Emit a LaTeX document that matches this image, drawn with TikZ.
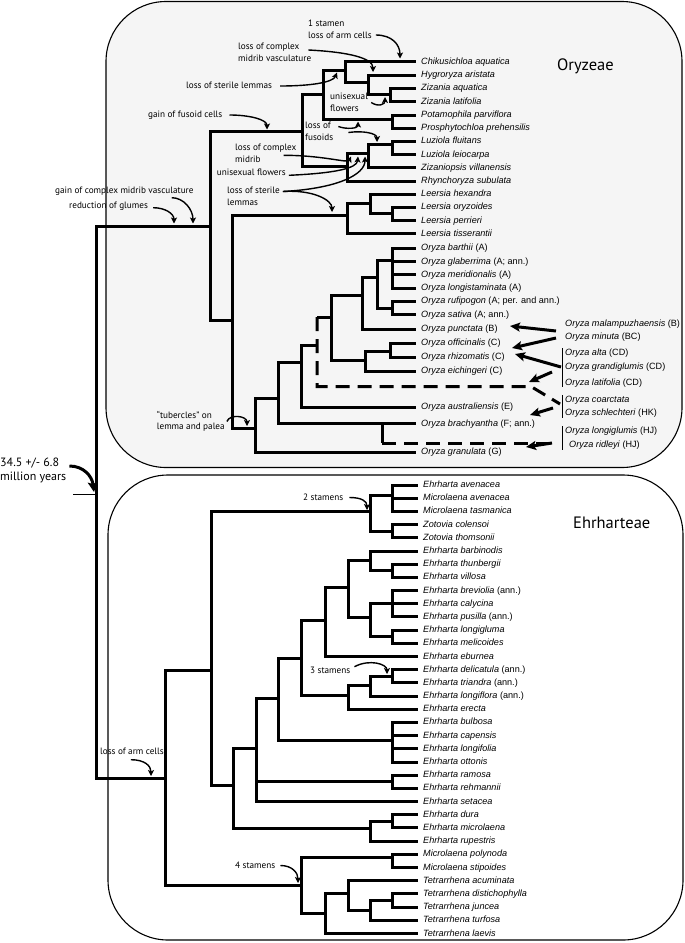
\documentclass[tikz,border=0pt]{standalone}
\usepackage{fontspec}
\setmainfont{Liberation Sans}
\newfontfamily\annf{PT Sans}
\usetikzlibrary{arrows.meta}
\definecolor{oryfill}{gray}{0.96}
\newcommand\mkleaf[4]{\node[tx] (#1) at (#2,#3) {#4};}
\begin{document}
\begin{tikzpicture}[x=1pt,y=-1pt,
 br/.style={line width=3pt,line join=miter},
 brd/.style={line width=3pt,dash pattern=on 14pt off 8pt},
 tx/.style={anchor=west,inner xsep=5pt,inner ysep=0pt,font=\fontsize{9.1}{10}\selectfont,text height=7pt,text depth=2pt},
 txr/.style={tx,inner xsep=3pt},
 an/.style={font=\annf\fontsize{9.2}{11.6}\selectfont,inner sep=0pt,align=left,anchor=west},
 big/.style={font=\annf\fontsize{12}{14}\selectfont,inner sep=0pt,align=left,anchor=west},
 ttl/.style={font=\annf\fontsize{16.5}{18}\selectfont,inner sep=0pt,anchor=west},
 ar/.style={line width=1.4pt,-{Stealth[length=6pt,width=6pt,inset=1.5pt]}},
 tet/.style={line width=3pt,-{Stealth[length=10pt,width=9pt,inset=2pt]}},
 brk/.style={line width=0.8pt},
 box/.style={line width=1.1pt,rounded corners=60pt}]
\useasboundingbox (0,0) rectangle (685,943);
% boxes
\draw[box,fill=oryfill] (106,1.5) rectangle (682,467.5);
\draw[box] (108,475) rectangle (683,940);

% ---------- Oryzeae leaves ----------
\mkleaf{oA1}{416}{61.5}{\textit{Chikusichloa aquatica}}
\mkleaf{oA2}{416}{75}{\textit{Hygroryza aristata}}
\mkleaf{oA3}{416}{88}{\textit{Zizania aquatica}}
\mkleaf{oA4}{416}{101.5}{\textit{Zizania latifolia}}
\mkleaf{oA5}{416}{115}{\textit{Potamophila parviflora}}
\mkleaf{oA6}{416}{128}{\textit{Prosphytochloa prehensilis}}
\mkleaf{oA7}{416}{141}{\textit{Luziola fluitans}}
\mkleaf{oA8}{416}{154.5}{\textit{Luziola leiocarpa}}
\mkleaf{oA9}{416}{167.5}{\textit{Zizaniopsis villanensis}}
\mkleaf{oA10}{416}{181}{\textit{Rhynchoryza subulata}}
\mkleaf{oA11}{416}{194}{\textit{Leersia hexandra}}
\mkleaf{oA12}{416}{207}{\textit{Leersia oryzoides}}
\mkleaf{oA13}{416}{220.5}{\textit{Leersia perrieri}}
\mkleaf{oA14}{416}{233.5}{\textit{Leersia tisserantii}}
\mkleaf{ob1}{416}{248}{\textit{Oryza barthii} (A)}
\mkleaf{ob2}{416}{261.5}{\textit{Oryza glaberrima} (A; ann.)}
\mkleaf{ob3}{416}{274.5}{\textit{Oryza meridionalis} (A)}
\mkleaf{ob4}{416}{288}{\textit{Oryza longistaminata} (A)}
\mkleaf{ob5}{416}{301}{\textit{Oryza rufipogon} (A; per. and ann.)}
\mkleaf{ob6}{416}{314.5}{\textit{Oryza sativa} (A; ann.)}
\mkleaf{ob7}{416}{329}{\textit{Oryza punctata} (B)}
\mkleaf{ob8}{416}{343}{\textit{Oryza officinalis} (C)}
\mkleaf{ob9}{416}{357}{\textit{Oryza rhizomatis} (C)}
\mkleaf{ob10}{416}{371}{\textit{Oryza eichingeri} (C)}
\mkleaf{ob11}{416}{407}{\textit{Oryza australiensis} (E)}
\mkleaf{ob12}{416}{423.5}{\textit{Oryza brachyantha} (F; ann.)}
\mkleaf{ob13}{416}{452}{\textit{Oryza granulata} (G)}

% ---------- Oryzeae internal nodes ----------
\coordinate (Z) at (390,94.5);
\coordinate (HZ) at (368,82);
\coordinate (CHZ) at (345,70);
\coordinate (PP) at (392,119);
\coordinate (N1) at (323,94);
\coordinate (Lz) at (392,144);
\coordinate (LZ) at (368,153);
\coordinate (LZR) at (347,166);
\coordinate (N2) at (302,131);
\coordinate (Le2) at (392,213);
\coordinate (Le1) at (370,203);
\coordinate (Le0) at (347,215);
\coordinate (Aa) at (392,260);
\coordinate (Ab) at (392,308);
\coordinate (Ac) at (377,277);
\coordinate (AB) at (362,295);
\coordinate (Cc) at (390,351);
\coordinate (Cn) at (365,360);
\coordinate (ABC) at (331,317);
\coordinate (Dn) at (317,345);
\coordinate (AUS) at (301,362);
\coordinate (BR) at (382,423.5);
\coordinate (G1) at (278,398);
\coordinate (ORn) at (255,428);
\coordinate (LO) at (232,320);
\coordinate (OZ) at (210,226);
\coordinate (R) at (96,494);
\coordinate (Dd1) at (531,386.5);
\coordinate (Dd2) at (560,404);
\coordinate (Bd) at (550,443);

\draw[br] (Z) |- (oA3.west);  \draw[br] (Z) |- (oA4.west);
\draw[br] (HZ) |- (oA2.west); \draw[br] (HZ) |- (Z);
\draw[br] (CHZ) |- (oA1.west); \draw[br] (CHZ) |- (HZ);
\draw[br] (PP) |- (oA5.west); \draw[br] (PP) |- (oA6.west);
\draw[br] (N1) |- (CHZ); \draw[br] (N1) |- (PP);
\draw[br] (Lz) |- (oA7.west); \draw[br] (Lz) |- (oA8.west);
\draw[br] (LZ) |- (Lz); \draw[br] (LZ) |- (oA9.west);
\draw[br] (LZR) |- (LZ); \draw[br] (LZR) |- (oA10.west);
\draw[br] (N2) |- (N1); \draw[br] (N2) |- (LZR);
\draw[br] (Le2) |- (oA12.west); \draw[br] (Le2) |- (oA13.west);
\draw[br] (Le1) |- (oA11.west); \draw[br] (Le1) |- (Le2);
\draw[br] (Le0) |- (Le1); \draw[br] (Le0) |- (oA14.west);
\foreach \c in {ob1,ob2,ob3,ob4} \draw[br] (Aa) |- (\c.west);
\draw[br] (Ab) |- (ob5.west); \draw[br] (Ab) |- (ob6.west);
\draw[br] (Ac) |- (Aa); \draw[br] (Ac) |- (Ab);
\draw[br] (AB) |- (Ac); \draw[br] (AB) |- (ob7.west);
\draw[br] (Cc) |- (ob8.west); \draw[br] (Cc) |- (ob9.west);
\draw[br] (Cn) |- (Cc); \draw[br] (Cn) |- (ob10.west);
\draw[br] (ABC) |- (AB); \draw[br] (ABC) |- (Cn);
\draw[br] (Dn |- ABC) -- (ABC);
\draw[brd] (Dn |- ABC) -- (Dn |- Dd1) -- (Dd1) -- (Dd2);
\draw[br] (AUS) |- (Dn); \draw[br] (AUS) |- (ob11.west);
\draw[br] (G1) |- (AUS); \draw[br] (G1) |- (BR) -- (ob12.west);
\draw[br] (BR) -- (BR |- Bd);
\draw[brd] (BR |- Bd) -- (Bd);
\draw[br] (ORn) |- (G1); \draw[br] (ORn) |- (ob13.west);
\draw[br] (LO) |- (Le0); \draw[br] (LO) |- (ORn);
\draw[br] (OZ) |- (N2); \draw[br] (OZ) |- (LO);

% ---------- Ehrharteae leaves ----------
\mkleaf{e0}{418}{485.0}{\textit{Ehrharta avenacea}}
\mkleaf{e1}{418}{498.2}{\textit{Microlaena avenacea}}
\mkleaf{e2}{418}{511.4}{\textit{Microlaena tasmanica}}
\mkleaf{e3}{418}{524.6}{\textit{Zotovia colensoi}}
\mkleaf{e4}{418}{537.8}{\textit{Zotovia thomsonii}}
\mkleaf{e5}{418}{551.0}{\textit{Ehrharta barbinodis}}
\mkleaf{e6}{418}{564.1}{\textit{Ehrharta thunbergii}}
\mkleaf{e7}{418}{577.3}{\textit{Ehrharta villosa}}
\mkleaf{e8}{418}{590.5}{\textit{Ehrharta breviolia} (ann.)}
\mkleaf{e9}{418}{603.7}{\textit{Ehrharta calycina}}
\mkleaf{e10}{418}{616.9}{\textit{Ehrharta pusilla} (ann.)}
\mkleaf{e11}{418}{630.1}{\textit{Ehrharta longigluma}}
\mkleaf{e12}{418}{643.3}{\textit{Ehrharta melicoides}}
\mkleaf{e13}{418}{656.5}{\textit{Ehrharta eburnea}}
\mkleaf{e14}{418}{669.7}{\textit{Ehrharta delicatula} (ann.)}
\mkleaf{e15}{418}{682.9}{\textit{Ehrharta triandra} (ann.)}
\mkleaf{e16}{418}{696.0}{\textit{Ehrharta longiflora} (ann.)}
\mkleaf{e17}{418}{709.2}{\textit{Ehrharta erecta}}
\mkleaf{e18}{418}{722.4}{\textit{Ehrharta bulbosa}}
\mkleaf{e19}{418}{735.6}{\textit{Ehrharta capensis}}
\mkleaf{e20}{418}{748.8}{\textit{Ehrharta longifolia}}
\mkleaf{e21}{418}{762.0}{\textit{Ehrharta ottonis}}
\mkleaf{e22}{418}{775.2}{\textit{Ehrharta ramosa}}
\mkleaf{e23}{418}{788.4}{\textit{Ehrharta rehmannii}}
\mkleaf{e24}{418}{801.6}{\textit{Ehrharta setacea}}
\mkleaf{e25}{418}{814.8}{\textit{Ehrharta dura}}
\mkleaf{e26}{418}{827.9}{\textit{Ehrharta microlaena}}
\mkleaf{e27}{418}{841.1}{\textit{Ehrharta rupestris}}
\mkleaf{e28}{418}{854.3}{\textit{Microlaena polynoda}}
\mkleaf{e29}{418}{867.5}{\textit{Microlaena stipoides}}
\mkleaf{e30}{418}{880.7}{\textit{Tetrarrhena acuminata}}
\mkleaf{e31}{418}{893.9}{\textit{Tetrarrhena distichophylla}}
\mkleaf{e32}{418}{907.1}{\textit{Tetrarrhena juncea}}
\mkleaf{e33}{418}{920.3}{\textit{Tetrarrhena turfosa}}
\mkleaf{e34}{418}{933.5}{\textit{Tetrarrhena laevis}}

% ---------- Ehrharteae internal nodes ----------
\coordinate (P1) at (392,495);
\coordinate (Zo) at (392,531);
\coordinate (P0) at (370,511.7);
\coordinate (TV) at (392,570.7);
\coordinate (BTV) at (370,560);
\coordinate (BCP) at (392,603.7);
\coordinate (LM) at (392,636.7);
\coordinate (BL) at (370,617);
\coordinate (E8) at (348.3,587);
\coordinate (E7) at (325,620);
\coordinate (DT) at (392,676.3);
\coordinate (DTL) at (370,685);
\coordinate (E9) at (348.3,695);
\coordinate (E6) at (301.7,658.3);
\coordinate (BU) at (392,740);
\coordinate (RR) at (392,781);
\coordinate (E5) at (278.3,698.3);
\coordinate (E3) at (256.7,748.3);
\coordinate (DM) at (392,821);
\coordinate (DU) at (370,828.3);
\coordinate (E2) at (233.3,785);
\coordinate (E1) at (211.7,670);
\coordinate (MP) at (392,857);
\coordinate (DJ) at (392,900.5);
\coordinate (DJT) at (370,910);
\coordinate (TA) at (348.3,893.3);
\coordinate (TL) at (325,913.3);
\coordinate (M4) at (301.7,885);
\coordinate (E0) at (165.7,778);

\foreach \c in {e0,e1,e2} \draw[br] (P1) |- (\c.west);
\draw[br] (Zo) |- (e3.west); \draw[br] (Zo) |- (e4.west);
\draw[br] (P0) |- (P1); \draw[br] (P0) |- (Zo);
\draw[br] (TV) |- (e6.west); \draw[br] (TV) |- (e7.west);
\draw[br] (BTV) |- (e5.west); \draw[br] (BTV) |- (TV);
\foreach \c in {e8,e9,e10} \draw[br] (BCP) |- (\c.west);
\draw[br] (LM) |- (e11.west); \draw[br] (LM) |- (e12.west);
\draw[br] (BL) |- (BCP); \draw[br] (BL) |- (LM);
\draw[br] (E8) |- (BTV); \draw[br] (E8) |- (BL);
\draw[br] (E7) |- (E8); \draw[br] (E7) |- (e13.west);
\draw[br] (DT) |- (e14.west); \draw[br] (DT) |- (e15.west);
\draw[br] (DTL) |- (DT); \draw[br] (DTL) |- (e16.west);
\draw[br] (E9) |- (DTL); \draw[br] (E9) |- (e17.west);
\draw[br] (E6) |- (E7); \draw[br] (E6) |- (E9);
\foreach \c in {e18,e19,e20,e21} \draw[br] (BU) |- (\c.west);
\draw[br] (RR) |- (e22.west); \draw[br] (RR) |- (e23.west);
\draw[br] (E5) |- (E6); \draw[br] (E5) |- (BU);
\draw[br] (E3) |- (E5); \draw[br] (E3) |- (RR); \draw[br] (E3) |- (e24.west);
\draw[br] (DM) |- (e25.west); \draw[br] (DM) |- (e26.west);
\draw[br] (DU) |- (DM); \draw[br] (DU) |- (e27.west);
\draw[br] (E2) |- (E3); \draw[br] (E2) |- (DU);
\draw[br] (E1) |- (P0); \draw[br] (E1) |- (E2);
\draw[br] (MP) |- (e28.west); \draw[br] (MP) |- (e29.west);
\draw[br] (DJ) |- (e31.west); \draw[br] (DJ) |- (e32.west);
\draw[br] (DJT) |- (DJ); \draw[br] (DJT) |- (e33.west);
\draw[br] (TA) |- (e30.west); \draw[br] (TA) |- (DJT);
\draw[br] (TL) |- (TA); \draw[br] (TL) |- (e34.west);
\draw[br] (M4) |- (MP); \draw[br] (M4) |- (TL);
\draw[br] (E0) |- (E1); \draw[br] (E0) |- (M4);

% root
\draw[br] (R) |- (OZ); \draw[br] (R) |- (E0);
\coordinate (mk) at (73,494);
\draw[line width=1pt] (mk) -- (R);

% ---------- polyploid labels ----------
\node[txr] (tp1) at (562,324) {\textit{Oryza malampuzhaensis} (B)};
\node[txr] (tp2) at (562,337) {\textit{Oryza minuta} (BC)};
\node[txr] (tp3) at (562,353) {\textit{Oryza alta} (CD)};
\node[txr] (tp4) at (562,366.5) {\textit{Oryza grandiglumis} (CD)};
\node[txr] (tp5) at (562,382.5) {\textit{Oryza latifolia} (CD)};
\node[txr] (tp6) at (562,399.5) {\textit{Oryza coarctata}};
\node[txr] (tp7) at (562,413) {\textit{Oryza schlechteri} (HK)};
\node[txr] (tp8) at (562,431) {\textit{Oryza longiglumis} (HJ)};
\node[txr] (tp9) at (566,445) {\textit{Oryza ridleyi} (HJ)};
\draw[brk] (tp3.north west) -- (tp5.south west);
\draw[brk] (tp6.north west) -- (tp7.south west);
\draw[brk] (tp8.north west) -- (tp8.north west |- tp9.south);

\coordinate (k1s) at (556,331); \coordinate (k1t) at (510,326);
\coordinate (k2s) at (556,338); \coordinate (k2t) at (512,348);
\coordinate (k3s) at (561,367); \coordinate (k3t) at (515,354);
\coordinate (k4s) at (552,372); \coordinate (k4t) at (529,382);
\coordinate (k6s) at (553,408); \coordinate (k6t) at (530,415);
\coordinate (k7s) at (552,443); \coordinate (k7t) at (526,447);
\draw[tet] (k1s) -- (k1t);
\draw[tet] (k2s) -- (k2t);
\draw[tet] (k3s) -- (k3t);
\draw[tet] (k4s) -- (k4t);
\draw[tet] (k6s) -- (k6t);
\draw[tet] (k7s) -- (k7t);

% ---------- annotations ----------
\node[an] (a1) at (308,29) {1 stamen\\loss of arm cells};
\node[an] (a2) at (238,52.5) {loss of complex\\midrib vasculature};
\node[an] (a3) at (186,85) {loss of sterile lemmas};
\node[an] (a4) at (148,115) {gain of fusoid cells};
\node[an] (a5) at (330,102.5) {unisexual\\flowers};
\node[an] (a6) at (305,131.5) {loss of\\fusoids};
\node[an] (a7) at (235,153.3) {loss of complex\\midrib};
\node[an] (a8) at (216.7,172.3) {unisexual flowers};
\node[an] (a9) at (227,196.5) {loss of sterile\\lemmas};
\node[an] (a10) at (55,191.7) {gain of complex midrib vasculature};
\node[an] (a11) at (69,206.7) {reduction of glumes};
\node[an] (a12) at (156.7,421.5) {“tubercles” on\\lemma and palea};
\node[big] (a13) at (0,470) {34.5 +/- 6.8\\million years};
\node[an] (a14) at (303,497.5) {2 stamens};
\node[an] (a15) at (310,670.7) {3 stamens};
\node[an] (a16) at (235,865) {4 stamens};
\node[an] (a17) at (100,751.7) {loss of arm cells};
\node[ttl] (ti1) at (557,66.7) {Oryzeae};
\node[ttl] (ti2) at (573,523) {Ehrharteae};

\coordinate (tA1) at (400,58.5);
\coordinate (tA2) at (373,72);
\coordinate (tA3) at (337,72.5);
\coordinate (tA4) at (267,129.5);
\coordinate (tA5) at (385,97);
\coordinate (tA6a) at (358,121.5);
\coordinate (tA6b) at (377,142);
\coordinate (tA7) at (351,156.5);
\coordinate (tA8) at (358,156.5);
\coordinate (tA9a) at (365,156.5);
\coordinate (tA9b) at (332,212);
\coordinate (tA10) at (193,223.5);
\coordinate (tA11) at (174,223.5);
\coordinate (tA12) at (247,426);
\coordinate (tA13) at (94,492);
\coordinate (tA14) at (367,510);
\coordinate (tA15) at (387,674);
\coordinate (tA16) at (298,883);
\coordinate (tA17) at (151,776);

\draw[ar] ([shift={(4pt,-6pt)}]a1.east) .. controls +(16pt,0pt) and +(0pt,14pt) .. (tA1);
\draw[ar] ([shift={(-3pt,2.5pt)}]a2.east) .. controls +(40pt,-2pt) and +(0pt,14pt) .. (tA2);
\draw[ar] ([shift={(8pt,-1pt)}]a3.east) .. controls +(30pt,0pt) and +(-4pt,-10pt) .. (tA3);
\draw[ar] ([xshift=7pt]a4.east) .. controls +(20pt,0pt) and +(0pt,10pt) .. (tA4);
\draw[ar] ([xshift=3pt]a5.east) .. controls +(8pt,-5pt) and +(0pt,-7pt) .. (tA5);
\draw[ar] ([shift={(5pt,5pt)}]a6.east) .. controls +(8pt,-3pt) and +(0pt,-7pt) .. (tA6a);
\draw[ar] ([shift={(15pt,-1pt)}]a6.east) .. controls +(14pt,2pt) and +(0pt,9pt) .. (tA6b);
\draw[ar] ([shift={(-13pt,-2pt)}]a7.east) .. controls +(40pt,0pt) and +(-3pt,-7pt) .. (tA7);
\draw[ar] ([shift={(3pt,-3pt)}]a8.east) .. controls +(45pt,2pt) and +(-1pt,-12pt) .. (tA8);
\draw[ar] ([shift={(3pt,5pt)}]a9.east) .. controls +(55pt,3pt) and +(0pt,-18pt) .. (tA9a);
\draw[ar] ([shift={(3pt,5pt)}]a9.east) .. controls +(30pt,2pt) and +(0pt,12pt) .. (tA9b);
\draw[ar] ([shift={(-22pt,-6pt)}]a10.east) .. controls +(12pt,0pt) and +(0pt,14pt) .. (tA10);
\draw[ar] ([shift={(5pt,-1pt)}]a11.east) .. controls +(12pt,0pt) and +(0pt,10pt) .. (tA11);
\draw[ar] ([xshift=2pt]a12.east) .. controls +(3pt,8pt) and +(0pt,10pt) .. (tA12);
\draw[line width=3pt,-{Stealth[length=10pt,width=10pt,inset=2pt]}] ([shift={(3pt,4pt)}]a13.east) .. controls +(14pt,0pt) and +(-2pt,16pt) .. (tA13);
\draw[ar] ([xshift=6pt]a14.east) .. controls +(12pt,0pt) and +(0pt,9pt) .. (tA14);
\draw[ar] ([shift={(4pt,4pt)}]a15.east) .. controls +(15pt,8pt) and +(0pt,10pt) .. (tA15);
\draw[ar] ([shift={(5pt,-0.5pt)}]a16.east) .. controls +(12pt,0pt) and +(0pt,10pt) .. (tA16);
\draw[ar] ([shift={(-33pt,-8pt)}]a17.east) .. controls +(14pt,0pt) and +(0pt,10pt) .. (tA17);
\end{tikzpicture}
\end{document}
